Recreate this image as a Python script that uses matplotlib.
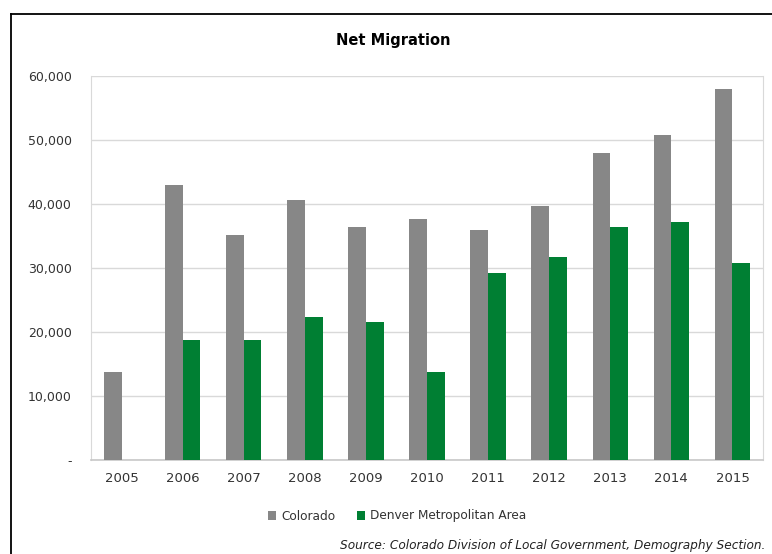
import numpy as np
import matplotlib.pyplot as plt
from matplotlib.lines import Line2D
from matplotlib.ticker import FuncFormatter

years = ['2005', '2006', '2007', '2008', '2009', '2010', '2011', '2012', '2013', '2014', '2015']
colorado = [13750, 42950, 35150, 40600, 36400, 37650, 35950, 39700, 47950, 50750, 57950]
denver = [0, 18750, 18750, 22350, 21550, 13750, 29150, 31750, 36350, 37150, 30750]

gray = '#878787'
green = '#007F33'

fig = plt.figure(figsize=(7.72, 5.54), dpi=100)
ax = fig.add_axes([91/772, 94/554, 672/772, 384/554])

x = np.arange(len(years))
w = 0.29
ax.bar(x - w/2, colorado, w, color=gray, label='Colorado', zorder=3)
ax.bar(x + w/2, denver, w, color=green, label='Denver Metropolitan Area', zorder=3)

ax.set_xlim(-0.5, len(years) - 0.5)
ax.set_ylim(0, 60000)
ax.set_yticks(np.arange(0, 60001, 10000))
ax.yaxis.set_major_formatter(FuncFormatter(lambda v, p: '-' if v == 0 else f'{int(v):,}'))
ax.set_xticks(x)
ax.set_xticklabels(years)
ax.tick_params(length=0, labelsize=9, colors='#333333')
ax.tick_params(axis='y', pad=14)
ax.tick_params(axis='x', pad=9, labelsize=9.5)
ax.grid(axis='y', color='#d9d9d9', lw=1, zorder=0)
for s in ['left', 'right', 'top']:
    ax.spines[s].set_color('#d9d9d9')
ax.spines['top'].set_visible(False)
ax.spines['bottom'].set_color('#c8c8c8')
ax.spines['bottom'].set_linewidth(1.2)

fig.text(393/772, 1 - 40/554, 'Net Migration', ha='center', va='center',
         fontsize=10.5, fontweight='bold')

fig.legend(loc='center', bbox_to_anchor=(397/772, 1 - 516/554), ncol=2,
           frameon=False, fontsize=8.7, handlelength=0.7, handleheight=0.7,
           handletextpad=0.4, columnspacing=1.8, labelcolor='#333333')

fig.text(765/772, 1 - 546/554, 'Source: Colorado Division of Local Government, Demography Section.',
         ha='right', va='center', fontsize=8.7, style='italic', color='#222222')

# outer frame: only top and left edges are in view
bx, by = 11/772, 1 - 14/554
fig.add_artist(Line2D([bx, 1.0], [by, by], transform=fig.transFigure, color='black', lw=1.3))
fig.add_artist(Line2D([bx, bx], [0.0, by], transform=fig.transFigure, color='black', lw=1.3))

fig.savefig('out.png', dpi=100)
